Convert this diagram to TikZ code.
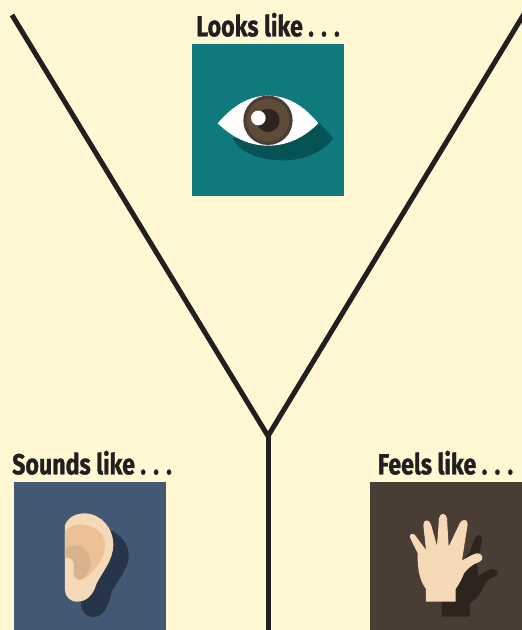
\documentclass[tikz,border=0pt]{standalone}
\usepackage{fontspec}
\usetikzlibrary{positioning}
\newfontfamily\labelfont[FakeStretch=0.8,FakeBold=1]{Fira Sans Bold}
\definecolor{paper}{HTML}{FFF8D3}
\definecolor{ink}{HTML}{231F20}
\definecolor{teal}{HTML}{0F7A7E}
\definecolor{tealshadow}{HTML}{055355}
\definecolor{slate}{HTML}{425875}
\definecolor{slateshadow}{HTML}{263549}
\definecolor{umber}{HTML}{4A3D36}
\definecolor{umbershadow}{HTML}{2E241E}
\definecolor{iris}{HTML}{5F4C38}
\definecolor{skin}{HTML}{F6DAB8}
\definecolor{skinmid}{HTML}{EDC197}
\definecolor{skindark}{HTML}{DAB28E}
\tikzset{
  iconbox/.style={minimum size=152pt, inner sep=0pt, outer sep=0pt},
  sense/.style={font=\labelfont\fontsize{29}{29}\selectfont, text=ink, inner sep=0pt},
  stem/.style={draw=ink, line width=5pt}
}
\begin{document}
\begin{tikzpicture}[x=1pt, y=-1pt, node distance=3pt]
\useasboundingbox (0,0) rectangle (522,630);
\clip (0,0) rectangle (522,630);
\fill[paper] (0,0) rectangle (522,630);

\node[iconbox, fill=teal] (eyebox) at (268,120) {};
\node[iconbox, fill=slate] (earbox) at (90,558) {};
\node[iconbox, fill=umber] (handbox) at (446,558) {};
\node[sense, above=7pt of eyebox] (looks) {Looks like . . .};
\node[sense, above=7pt of earbox, xshift=2pt] (sounds) {Sounds like . . .};
\node[sense, above=7pt of handbox, xshift=-0.5pt] (feels) {Feels like . . .};

\coordinate (fork) at (268,436);
\coordinate (armleft) at (12,15);
\coordinate (armright) at (524,14);
\coordinate (foot) at (268,632);
\draw[stem] (armleft) -- (fork);
\draw[stem] (armright) -- (fork);
\draw[stem] (fork) -- (foot);

% eye
\begin{scope}[shift={(180,0)}, x=0.3333pt, y=-0.3333pt]
\fill[tealshadow] (158,415) .. controls (185,465) and (250,482) .. (315,481)
  .. controls (375,480) and (430,455) .. (460,415) -- (415,365) -- cycle;
\fill[white] (113,370) .. controls (160,315) and (210,287) .. (264,287)
  .. controls (320,287) and (370,315) .. (415,370)
  .. controls (370,415) and (320,437) .. (264,437)
  .. controls (210,437) and (160,415) .. (113,370) -- cycle;
\fill[umber] (264,361) circle (74);
\fill[iris] (264,361) circle (64);
\fill[umbershadow] (264,361) circle (35);
\fill[white] (235,354) circle (22);
\end{scope}

% ear
\begin{scope}[shift={(0,445)}, x=0.3333pt, y=-0.3333pt]
\fill[slateshadow] (330,255) .. controls (365,270) and (388,300) .. (386,335)
  .. controls (384,375) and (350,410) .. (335,440)
  .. controls (325,485) and (310,516) .. (280,516)
  .. controls (255,516) and (240,495) .. (243,465) -- cycle;
\fill[skin] (195,240) .. controls (205,215) and (230,205) .. (255,205)
  .. controls (305,207) and (340,250) .. (340,300)
  .. controls (340,345) and (305,385) .. (290,415)
  .. controls (280,450) and (260,470) .. (232,470)
  .. controls (210,470) and (195,455) .. (195,435) -- cycle;
\fill[skinmid] (195,262) .. controls (205,245) and (225,238) .. (240,238)
  .. controls (285,240) and (315,265) .. (315,300)
  .. controls (315,340) and (285,375) .. (265,392)
  .. controls (250,405) and (235,408) .. (226,398)
  .. controls (216,385) and (225,365) .. (222,352)
  .. controls (218,340) and (205,332) .. (195,340) -- cycle;
\fill[skindark] (195,315) .. controls (205,303) and (220,300) .. (232,301)
  .. controls (258,305) and (272,330) .. (272,355)
  .. controls (272,375) and (255,405) .. (238,405)
  .. controls (222,402) and (218,385) .. (222,368)
  .. controls (225,350) and (215,335) .. (195,337) -- cycle;
\end{scope}

% hand
\begin{scope}[shift={(360,445)}, x=0.3333pt, y=-0.3333pt]
\fill[umbershadow] (245,515) -- (245,440) -- (330,320)
  .. controls (338,295) and (345,275) .. (355,270)
  .. controls (365,268) and (367,280) .. (365,295)
  -- (350,352) -- (355,392)
  .. controls (370,385) and (385,372) .. (400,372)
  .. controls (415,375) and (418,390) .. (405,395)
  .. controls (385,400) and (375,415) .. (368,430)
  .. controls (360,450) and (345,465) .. (330,475) -- (330,515) -- cycle;
\fill[skin] (198,470) -- (198,432)
  .. controls (178,405) and (172,370) .. (173,325)
  -- (150,278) .. controls (147,268) and (157,262) .. (165,270)
  -- (198,315) -- (190,240) .. controls (190,222) and (208,222) .. (213,238)
  -- (231,303) -- (237,220) .. controls (240,202) and (258,202) .. (261,220)
  -- (266,305) -- (299,235) .. controls (306,220) and (325,222) .. (323,238)
  -- (306,346)
  .. controls (320,340) and (335,328) .. (350,325)
  .. controls (370,325) and (375,345) .. (355,352)
  .. controls (335,358) and (320,375) .. (312,385)
  .. controls (305,405) and (295,420) .. (287,432)
  -- (287,470) -- cycle;
\end{scope}
\end{tikzpicture}
\end{document}
